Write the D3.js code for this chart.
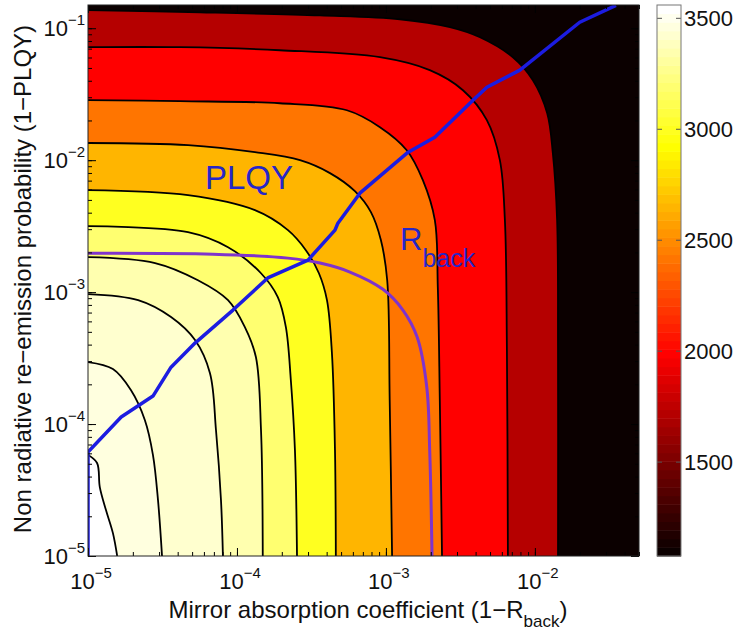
<!DOCTYPE html>
<html>
<head>
<meta charset="utf-8">
<script src="https://cdn.jsdelivr.net/npm/d3@7"></script>
<style>
body { margin: 0; background: #fff; }
text { font-family: "Liberation Sans", Arial, Helvetica, sans-serif; }
</style>
</head>
<body>
<svg id="chart" width="738" height="632"></svg>
<script>
'use strict';

// axis limits
var xDomain = [1e-5, 0.05],
    yDomain = [1e-5, 0.15],
    cDomain = [1077, 3560];

var xTickExp = [-5, -4, -3, -2],
    yTickExp = [-5, -4, -3, -2, -1],
    cTicks = [1500, 2000, 2500, 3000, 3500];

// contour levels, lowest first (one per contour line below)
var levels = [1720, 2000, 2400, 2650, 3000, 3200, 3350, 3420, 3480, 3525];

// contour lines, points are [1-R_back, 1-PLQY], from left edge to bottom edge
var c1 = [[1e-5, 1.37e-1], [5.65e-5, 1.32e-1], [3.61e-4, 1.25e-1], [1.24e-3, 1.17e-1], [2.69e-3, 1.02e-1],
          [4.28e-3, 8.55e-2], [7.12e-3, 6.03e-2], [9.70e-3, 4.04e-2], [1.21e-2, 2.27e-2], [1.32e-2, 1.13e-2],
          [1.41e-2, 3.51e-3], [1.43e-2, 3.64e-4], [1.43e-2, 1e-5]];
var c2 = [[1e-5, 7.18e-2], [4.14e-5, 7.18e-2], [1.94e-4, 6.81e-2], [9.12e-4, 6.03e-2], [1.97e-3, 4.81e-2],
          [3.29e-3, 3.39e-2], [4.76e-3, 2.01e-2], [5.82e-3, 1.00e-2], [6.29e-3, 3.51e-3], [6.49e-3, 3.64e-4],
          [6.59e-3, 1e-5]];
var c3 = [[1e-5, 2.85e-2], [4.14e-5, 2.80e-2], [1.94e-4, 2.70e-2], [5.47e-4, 2.39e-2], [9.12e-4, 1.78e-2],
          [1.38e-3, 1.19e-2], [1.77e-3, 7.05e-3], [2.13e-3, 3.51e-3], [2.23e-3, 1.09e-3], [2.30e-3, 1.52e-4],
          [2.38e-3, 1e-5]];
var c4 = [[1e-5, 1.35e-2], [4.69e-5, 1.30e-2], [1.32e-4, 1.15e-2], [2.65e-4, 1.00e-2], [4.21e-4, 7.98e-3],
          [6.19e-4, 5.82e-3], [7.93e-4, 4.04e-3], [9.25e-4, 2.48e-3], [1.02e-3, 1.23e-3], [1.06e-3, 1.52e-4],
          [1.10e-3, 1e-5]];
var c5 = [[1e-5, 5.93e-3], [4.69e-5, 5.43e-3], [1.32e-4, 4.18e-3], [2.20e-4, 2.95e-3], [2.90e-4, 2.08e-3],
          [3.55e-4, 1.39e-3], [4.02e-4, 8.69e-4], [4.34e-4, 3.45e-4], [4.55e-4, 6.35e-5], [4.61e-4, 1e-5]];
var c6 = [[1e-5, 3.16e-3], [4.69e-5, 2.85e-3], [8.71e-5, 2.19e-3], [1.45e-4, 1.39e-3], [1.88e-4, 9.17e-4],
          [2.13e-4, 5.43e-4], [2.30e-4, 2.15e-4], [2.45e-4, 6.35e-5], [2.53e-4, 1e-5]];
var c7 = [[1e-5, 1.84e-3], [2.82e-5, 1.66e-3], [5.47e-5, 1.23e-3], [8.71e-5, 8.69e-4], [1.13e-4, 5.43e-4],
          [1.34e-4, 3.22e-4], [1.45e-4, 9.01e-5], [1.49e-4, 1e-5]];
var c8 = [[1e-5, 9.66e-4], [2.17e-5, 8.69e-4], [3.61e-5, 6.47e-4], [5.23e-5, 4.33e-4], [6.59e-5, 2.43e-4],
          [7.23e-5, 9.01e-5], [7.81e-5, 2.66e-5], [8.05e-5, 1e-5]];
var c9 = [[1e-5, 2.95e-4], [1.47e-5, 2.61e-4], [1.94e-5, 1.81e-4], [2.41e-5, 1.07e-4], [2.73e-5, 5.82e-5],
          [2.95e-5, 2.66e-5], [3.14e-5, 1e-5]];
var c10 = [[1e-5, 5.82e-5], [1.15e-5, 5.07e-5], [1.20e-5, 3.33e-5], [1.32e-5, 2.23e-5], [1.47e-5, 1.49e-5],
           [1.57e-5, 1e-5]];
var contours = [c1, c2, c3, c4, c5, c6, c7, c8, c9, c10];

// R_back curve (purple) and PLQY curve (blue)
var rbackCurve = [[1e-5, 1.97e-3], [6.90e-5, 1.94e-3], [2.20e-4, 1.81e-3], [3.61e-4, 1.66e-3], [5.73e-4, 1.42e-3],
                  [9.55e-4, 1.05e-3], [1.30e-3, 7.31e-4], [1.62e-3, 4.56e-4], [1.88e-3, 1.91e-4], [1.97e-3, 6.03e-5],
                  [2.04e-3, 1e-5]];
var plqyCurve = [[1e-5, 1e-5], [1e-5, 6.14e-5], [1.67e-5, 1.13e-4], [2.73e-5, 1.63e-4], [3.61e-5, 2.70e-4],
                 [5.23e-5, 4.11e-4], [9.40e-5, 7.31e-4], [1.61e-4, 1.28e-3], [3.00e-4, 1.75e-3], [4.55e-4, 2.95e-3],
                 [4.76e-4, 3.33e-3], [6.69e-4, 5.62e-3], [1.41e-3, 1.15e-2], [2.13e-3, 1.49e-2], [3.84e-3, 2.85e-2],
                 [4.76e-3, 3.57e-2], [7.93e-3, 4.81e-2], [2.00e-2, 1.11e-1], [3.50e-2, 1.49e-1]];

var margin = { left: 88, right: 639, top: 5, bottom: 556 },
    cbar = { left: 657, right: 681 },
    font = '"Liberation Sans", Arial, Helvetica, sans-serif';

var svg = d3.select('#chart');

var x = d3.scaleLog().domain(xDomain).range([margin.left, margin.right]);
var y = d3.scaleLog().domain(yDomain).range([margin.bottom, margin.top]);
var cy = d3.scaleLinear().domain(cDomain).range([margin.bottom, margin.top]);

// matlab hot(64)
function hot(v) {
    var m = 64,
        i = Math.floor((v - cDomain[0]) / (cDomain[1] - cDomain[0]) * m);
    i = Math.max(0, Math.min(m - 1, i)) + 1;
    var r = Math.min(1, i / 24),
        g = Math.max(0, Math.min(1, (i - 24) / 24)),
        b = Math.max(0, Math.min(1, (i - 48) / 16));
    return d3.rgb(r * 255, g * 255, b * 255).formatHex();
}

svg.append('clipPath').attr('id', 'plot-clip')
    .append('rect')
    .attr('x', margin.left).attr('y', margin.top)
    .attr('width', margin.right - margin.left).attr('height', margin.bottom - margin.top);

var plot = svg.append('g').attr('clip-path', 'url(#plot-clip)');

plot.append('rect')
    .attr('x', margin.left).attr('y', margin.top)
    .attr('width', margin.right - margin.left).attr('height', margin.bottom - margin.top)
    .attr('fill', hot(cDomain[0]));

var smooth = d3.line()
    .x(function (d) { return x(d[0]); })
    .y(function (d) { return y(d[1]); })
    .curve(d3.curveCatmullRom.alpha(0.5));

var corner = 'L' + x(xDomain[0]) + ',' + y(yDomain[0]) + 'Z';

// filled bands, lowest level first
plot.selectAll('path.band')
    .data(contours)
    .enter().append('path')
    .attr('class', 'band')
    .attr('d', function (d) { return smooth(d) + corner; })
    .attr('fill', function (d, i) { return hot(levels[i]); })
    .attr('stroke', 'none');

plot.selectAll('path.cline')
    .data(contours)
    .enter().append('path')
    .attr('class', 'cline')
    .attr('d', smooth)
    .attr('fill', 'none')
    .attr('stroke', '#000')
    .attr('stroke-width', 1.8);

plot.append('path')
    .attr('d', smooth(rbackCurve))
    .attr('fill', 'none')
    .attr('stroke', '#7f33cc')
    .attr('stroke-width', 3);

plot.append('path')
    .attr('d', d3.line()
        .x(function (d) { return x(d[0]); })
        .y(function (d) { return y(d[1]); })(plqyCurve))
    .attr('fill', 'none')
    .attr('stroke', '#1c1ce0')
    .attr('stroke-width', 3.5)
    .attr('stroke-linejoin', 'round');

// annotations
svg.append('text')
    .attr('x', 205).attr('y', 189)
    .attr('font-size', 33)
    .attr('fill', '#2626c8')
    .text('PLQY');

var rb = svg.append('text')
    .attr('x', 400).attr('y', 250)
    .attr('font-size', 31)
    .attr('fill', '#2626c8');
rb.append('tspan').text('R');
rb.append('tspan').attr('dy', 17).attr('font-size', 25).text('back');

// log ticks
function minorTicks(domain) {
    var out = [];
    for (var e = -6; e <= 0; e++) {
        for (var k = 1; k <= 9; k++) {
            var v = k * Math.pow(10, e);
            if (v >= domain[0] * 0.999 && v <= domain[1] * 1.001) out.push(v);
        }
    }
    return out;
}

var xMinor = minorTicks(xDomain),
    yMinor = minorTicks(yDomain),
    xMajor = xTickExp.map(function (e) { return Math.pow(10, e); }),
    yMajor = yTickExp.map(function (e) { return Math.pow(10, e); });

function tickAxis(axis, vals, len, transform) {
    var g = svg.append('g')
        .attr('transform', transform)
        .call(axis.tickValues(vals).tickSize(-len).tickFormat(''));
    g.select('.domain').remove();
    g.selectAll('line').attr('stroke', '#000').attr('stroke-width', 1);
}

tickAxis(d3.axisBottom(x), xMinor, 4, 'translate(0,' + margin.bottom + ')');
tickAxis(d3.axisBottom(x), xMajor, 8, 'translate(0,' + margin.bottom + ')');
tickAxis(d3.axisTop(x), xMinor, 4, 'translate(0,' + margin.top + ')');
tickAxis(d3.axisTop(x), xMajor, 8, 'translate(0,' + margin.top + ')');
tickAxis(d3.axisLeft(y), yMinor, 4, 'translate(' + margin.left + ',0)');
tickAxis(d3.axisLeft(y), yMajor, 8, 'translate(' + margin.left + ',0)');
tickAxis(d3.axisRight(y), yMinor, 4, 'translate(' + margin.right + ',0)');
tickAxis(d3.axisRight(y), yMajor, 8, 'translate(' + margin.right + ',0)');

svg.append('rect')
    .attr('x', margin.left).attr('y', margin.top)
    .attr('width', margin.right - margin.left).attr('height', margin.bottom - margin.top)
    .attr('fill', 'none')
    .attr('stroke', '#222')
    .attr('stroke-width', 1);

// tick labels 10^n
svg.selectAll('text.xtick')
    .data(xTickExp)
    .enter().append('text')
    .attr('class', 'xtick')
    .attr('x', function (d) { return x(Math.pow(10, d)) + 3; })
    .attr('y', 589)
    .attr('text-anchor', 'middle')
    .attr('font-size', 22)
    .attr('fill', '#111')
    .each(function (d) {
        var t = d3.select(this);
        t.append('tspan').text('10');
        t.append('tspan').attr('dy', -11).attr('font-size', 15).text('\u2212' + Math.abs(d));
    });

svg.selectAll('text.ytick')
    .data(yTickExp)
    .enter().append('text')
    .attr('class', 'ytick')
    .attr('x', 85)
    .attr('y', function (d) { return y(Math.pow(10, d)) + 8; })
    .attr('text-anchor', 'end')
    .attr('font-size', 22)
    .attr('fill', '#111')
    .each(function (d) {
        var t = d3.select(this);
        t.append('tspan').text('10');
        t.append('tspan').attr('dy', -11).attr('font-size', 15).text('\u2212' + Math.abs(d));
    });

// axis titles
var xt = svg.append('text')
    .attr('x', 368).attr('y', 618)
    .attr('text-anchor', 'middle')
    .attr('font-size', 24)
    .attr('fill', '#111');
xt.append('tspan').text('Mirror absorption coefficient (1\u2212R');
xt.append('tspan').attr('dy', 9).attr('font-size', 17).text('back');
xt.append('tspan').attr('dy', -9).text(')');

svg.append('text')
    .attr('transform', 'translate(31,279) rotate(-90)')
    .attr('text-anchor', 'middle')
    .attr('font-size', 24)
    .attr('fill', '#111')
    .text('Non radiative re\u2212emission probability (1\u2212PLQY)');

// colorbar
var nSteps = 64,
    step = (cDomain[1] - cDomain[0]) / nSteps,
    cSteps = d3.range(nSteps).map(function (i) { return cDomain[0] + i * step; });

svg.selectAll('rect.cstep')
    .data(cSteps)
    .enter().append('rect')
    .attr('class', 'cstep')
    .attr('x', cbar.left)
    .attr('width', cbar.right - cbar.left)
    .attr('y', function (d) { return cy(d + step); })
    .attr('height', function (d) { return cy(d) - cy(d + step) + 0.5; })
    .attr('fill', function (d) { return hot(d + step / 2); });

svg.selectAll('line.ctick')
    .data(cTicks.concat(cTicks))
    .enter().append('line')
    .attr('class', 'ctick')
    .attr('x1', function (d, i) { return i < cTicks.length ? cbar.left : cbar.right - 5; })
    .attr('x2', function (d, i) { return i < cTicks.length ? cbar.left + 5 : cbar.right; })
    .attr('y1', cy).attr('y2', cy)
    .attr('stroke', '#555')
    .attr('stroke-width', 1);

svg.append('rect')
    .attr('x', cbar.left).attr('y', margin.top)
    .attr('width', cbar.right - cbar.left).attr('height', margin.bottom - margin.top)
    .attr('fill', 'none')
    .attr('stroke', '#777')
    .attr('stroke-width', 1);

svg.selectAll('text.ctick')
    .data(cTicks)
    .enter().append('text')
    .attr('class', 'ctick')
    .attr('x', 684)
    .attr('y', function (d) { return cy(d) + 8; })
    .attr('font-size', 22)
    .attr('fill', '#111')
    .text(function (d) { return d; });
</script>
</body>
</html>
